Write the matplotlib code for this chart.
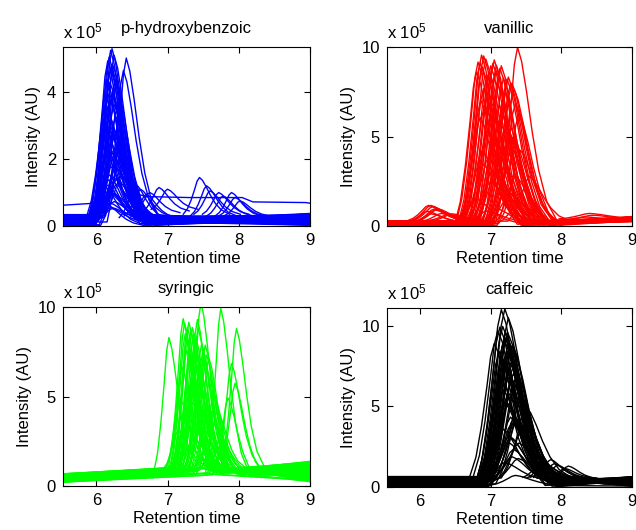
import numpy as np
import matplotlib
matplotlib.use('Agg')
import matplotlib.pyplot as plt

plt.rcParams['font.family'] = ['Liberation Sans', 'DejaVu Sans']
plt.rcParams['mathtext.default'] = 'regular'

# peak template (offset from apex in min, fraction of apex height)
OFFS = np.array([-0.27, -0.20, -0.14, -0.08, -0.04, 0.0, 0.05, 0.11, 0.18, 0.26, 0.36, 0.50])
SHAPE = np.array([0.0, 0.15, 0.38, 0.68, 0.90, 1.0, 0.92, 0.75, 0.52, 0.30, 0.12, 0.0])

# ---- p-hydroxybenzoic (x 1e5) ----
p_rt = [6.22, 6.20, 6.18, 6.25, 6.42, 6.38, 6.24, 6.20, 6.15, 6.28, 6.22, 6.18, 6.30, 6.25, 6.12, 6.20, 6.27, 6.17, 6.32,
        6.22, 6.14, 6.26, 6.20, 6.30, 6.18, 6.24, 6.12, 6.28, 6.20, 6.16, 6.25, 6.35, 6.22, 6.19, 6.23, 6.29, 6.15, 6.21,
        6.16, 6.21, 6.26, 6.19, 6.23, 6.13, 6.27, 6.18, 6.24, 6.20, 6.31, 6.15, 6.22, 6.26, 6.17, 6.29, 6.21, 6.25, 6.19, 6.33]
p_h = [5.2, 5.1, 5.0, 4.9, 4.9, 4.4, 4.7, 4.4, 4.2, 4.1, 3.9, 3.7, 3.5, 3.3, 3.1, 2.9, 2.7, 2.5, 2.4,
       2.2, 2.0, 1.9, 1.7, 1.5, 1.4, 1.2, 1.1, 0.9, 0.8, 0.6, 0.5, 1.2, 0.4, 3.6, 2.6, 1.8, 0.9, 0.3,
       4.8, 4.6, 4.3, 4.0, 3.8, 3.4, 3.2, 3.0, 2.8, 2.6, 2.3, 2.1, 1.9, 1.6, 1.3, 1.1, 0.9, 0.7, 0.5, 2.0]
p_bl = [0.10, 0.15, 0.05, 0.20, 0.12, 0.25, 0.08, 0.30, 0.18, 0.22, 0.03, 0.28, 0.14, 0.33, 0.06, 0.24, 0.11, 0.19, 0.27,
        0.04, 0.16, 0.31, 0.09, 0.21, 0.13, 0.26, 0.07, 0.34, 0.17, 0.02, 0.23, 0.29, 0.12, 0.20, 0.05, 0.15, 0.32, 0.25,
        0.14, 0.22, 0.06, 0.30, 0.18, 0.26, 0.09, 0.33, 0.12, 0.24, 0.04, 0.20, 0.28, 0.16, 0.08, 0.31, 0.11, 0.27, 0.19, 0.02]
p_br = [0.30, 0.12, 0.25, 0.05, 0.35, 0.18, 0.28, 0.10, 0.33, 0.08, 0.22, 0.15, 0.38, 0.03, 0.27, 0.20, 0.06, 0.31, 0.13,
        0.24, 0.36, 0.09, 0.29, 0.17, 0.02, 0.34, 0.21, 0.11, 0.26, 0.19, 0.07, 0.32, 0.14, 0.23, 0.37, 0.04, 0.16, 0.28,
        0.20, 0.08, 0.33, 0.14, 0.26, 0.04, 0.30, 0.18, 0.36, 0.10, 0.24, 0.32, 0.06, 0.22, 0.28, 0.12, 0.35, 0.16, 0.02, 0.25]
p_sec_rt = [6.62, 6.70, 6.88, 7.00, 7.45, 7.55, 7.60, 7.72, 7.78, 7.90, 7.95, 8.02, 6.55, 6.75]
p_sec_h = [0.8, 0.7, 0.7, 0.6, 1.1, 0.9, 0.7, 0.65, 0.6, 0.7, 0.55, 0.45, 1.0, 0.6]
p_sec_b = [0.3, 0.25, 0.45, 0.5, 0.35, 0.3, 0.35, 0.35, 0.3, 0.3, 0.3, 0.3, 0.25, 0.4]
p_hi_t = [5.52, 5.97, 6.08, 6.2, 6.32, 6.5, 6.7, 7.3, 8.05, 8.2, 8.95, 9.0]
p_hi_y = [0.62, 0.68, 1.6, 3.0, 2.2, 1.0, 0.88, 0.85, 0.85, 0.72, 0.70, 0.68]

# ---- vanillic ----
v_rt = [6.87, 6.85, 6.90, 7.05, 7.00, 7.15, 7.25, 7.38, 7.30, 6.80, 6.95, 7.10, 7.35, 7.20, 7.40, 6.90, 7.00, 7.12, 6.85,
        7.25, 7.55, 6.95, 7.05, 7.30, 7.15, 6.90, 7.35, 7.00, 7.20, 6.80, 7.10, 7.40, 6.95, 7.08, 7.18, 6.88, 7.28, 7.02,
        6.82, 6.88, 6.93, 6.98, 7.03, 7.08, 7.13, 7.18, 7.23, 7.28, 7.33, 6.86, 6.92, 7.02, 7.12, 7.22, 7.32, 7.42,
        6.97, 7.07, 7.17, 7.27]
v_h = [9.5, 9.0, 9.3, 9.2, 8.7, 8.8, 8.3, 9.8, 7.7, 8.5, 8.2, 7.9, 6.7, 7.2, 6.2, 7.5, 6.9, 6.5, 5.9,
       5.7, 2.5, 5.2, 4.7, 4.3, 3.7, 3.2, 2.7, 2.2, 1.7, 1.3, 0.9, 1.2, 0.6, 8.9, 6.0, 4.0, 5.0, 3.0,
       9.0, 8.8, 9.1, 8.6, 8.9, 8.4, 8.7, 8.2, 8.0, 7.8, 7.4, 7.0, 6.6, 6.3, 5.8, 5.4, 4.9, 4.1,
       3.6, 2.9, 2.3, 1.6]
v_bl = [0.05, 0.12, 0.20, 0.08, 0.25, 0.15, 0.02, 0.18, 0.28, 0.10, 0.22, 0.06, 0.14, 0.26, 0.04, 0.19, 0.11, 0.23, 0.16,
        0.07, 0.27, 0.13, 0.21, 0.03, 0.17, 0.24, 0.09, 0.29, 0.12, 0.20, 0.05, 0.15, 0.25, 0.08, 0.18, 0.22, 0.10, 0.14,
        0.16, 0.09, 0.23, 0.04, 0.19, 0.27, 0.11, 0.06, 0.21, 0.14, 0.25, 0.02, 0.17, 0.28, 0.10, 0.22, 0.07, 0.13,
        0.26, 0.18, 0.05, 0.24]
v_br = [0.30, 0.45, 0.25, 0.50, 0.35, 0.40, 0.55, 0.28, 0.48, 0.33, 0.42, 0.26, 0.52, 0.38, 0.31, 0.46, 0.36, 0.29, 0.50,
        0.41, 0.34, 0.47, 0.27, 0.44, 0.39, 0.32, 0.53, 0.37, 0.30, 0.43, 0.49, 0.35, 0.40, 0.28, 0.45, 0.33, 0.38, 0.42,
        0.36, 0.48, 0.29, 0.41, 0.53, 0.33, 0.45, 0.27, 0.39, 0.51, 0.31, 0.43, 0.37, 0.49, 0.26, 0.40, 0.34, 0.46,
        0.30, 0.42, 0.54, 0.32]
v_sec_rt = [6.12, 6.15, 6.18, 6.20, 6.10, 6.25, 6.15, 6.22, 6.30, 6.40, 6.45, 8.40, 8.45, 8.35]
v_sec_h = [0.85, 0.90, 0.80, 0.75, 0.60, 0.70, 0.50, 0.65, 0.45, 0.35, 0.40, 0.30, 0.25, 0.20]
v_sec_b = [0.30, 0.25, 0.28, 0.20, 0.22, 0.26, 0.18, 0.24, 0.25, 0.30, 0.28, 0.40, 0.35, 0.30]

# ---- syringic ----
s_rt = [7.02, 7.22, 7.30, 7.35, 7.47, 7.42, 7.75, 7.97, 7.25, 7.40, 7.50, 7.55, 7.30, 7.20, 7.60, 7.90, 7.95, 7.45, 7.65,
        7.35, 7.25, 7.55, 7.75, 7.40, 7.30, 7.60, 7.50, 7.80, 7.15, 7.70, 7.85, 7.45, 7.35, 7.28, 7.38, 7.52, 7.62, 7.18,
        7.24, 7.28, 7.33, 7.37, 7.43, 7.48, 7.53, 7.58, 7.27, 7.32, 7.41, 7.46, 7.36, 7.31, 7.44, 7.49, 7.26, 7.39,
        7.57, 7.67, 7.22, 7.34]
s_h = [7.6, 8.5, 8.2, 8.1, 9.2, 8.4, 9.2, 7.8, 7.7, 7.2, 6.8, 6.4, 6.2, 5.7, 5.2, 5.8, 5.0, 4.7, 4.2,
       3.7, 3.2, 2.7, 2.2, 1.7, 1.2, 0.8, 0.5, 1.5, 2.2, 3.2, 4.3, 5.7, 5.2, 7.5, 6.8, 6.0, 3.5, 4.0,
       8.3, 7.9, 8.0, 7.6, 7.8, 7.1, 6.9, 6.5, 6.7, 6.3, 6.0, 5.5, 5.0, 4.5, 4.0, 3.4, 2.9, 2.4,
       1.9, 2.6, 1.4, 3.0]
s_bl = [0.20, 0.35, 0.50, 0.28, 0.62, 0.42, 0.25, 0.55, 0.38, 0.68, 0.30, 0.46, 0.22, 0.58, 0.34, 0.65, 0.26, 0.48, 0.40,
        0.60, 0.32, 0.52, 0.24, 0.44, 0.66, 0.36, 0.56, 0.29, 0.47, 0.63, 0.21, 0.39, 0.54, 0.31, 0.45, 0.59, 0.27, 0.50,
        0.33, 0.57, 0.24, 0.46, 0.64, 0.37, 0.52, 0.21, 0.43, 0.61, 0.29, 0.55, 0.35, 0.67, 0.25, 0.49, 0.40, 0.58,
        0.23, 0.45, 0.62, 0.30]
s_bm = [0.70, 0.85, 0.95, 0.75, 1.05, 0.90, 0.72, 1.00, 0.82, 1.02, 0.78, 0.92, 0.65, 0.98, 0.80, 1.04, 0.74, 0.93, 0.86,
        0.99, 0.77, 0.96, 0.60, 0.88, 1.03, 0.81, 0.97, 0.73, 0.91, 1.01, 0.62, 0.84, 0.94, 0.76, 0.89, 1.00, 0.68, 0.87,
        0.80, 0.95, 0.70, 0.90, 1.02, 0.83, 0.97, 0.66, 0.88, 1.00, 0.75, 0.94, 0.82, 1.04, 0.71, 0.92, 0.85, 0.98,
        0.69, 0.89, 1.01, 0.78]
s_br = [0.30, 1.20, 0.60, 1.35, 0.45, 0.95, 1.25, 0.20, 0.80, 1.10, 0.55, 1.40, 0.35, 1.00, 0.70, 1.30, 0.25, 0.90, 1.15,
        0.50, 1.05, 0.40, 1.28, 0.65, 0.85, 1.38, 0.30, 0.75, 1.18, 0.58, 0.98, 1.22, 0.42, 1.08, 0.68, 1.32, 0.48, 0.88,
        1.12, 0.52, 0.95, 1.36, 0.28, 0.78, 1.24, 0.62, 1.05, 0.38, 1.30, 0.72, 0.22, 0.92, 1.18, 0.46, 1.02, 0.58,
        1.34, 0.33, 0.84, 1.15]

# ---- caffeic ----
c_rt = [7.15, 7.20, 7.25, 7.05, 7.12, 7.20, 7.25, 7.30, 7.22, 7.28, 7.18, 7.35, 7.30, 7.25, 7.40, 7.20, 7.35,
        7.30, 7.45, 7.25, 7.40, 7.30, 7.20, 7.35, 7.50, 7.15, 7.10, 7.22, 7.27, 7.32, 7.18, 7.24, 7.38, 7.28,
        7.13, 7.17, 7.21, 7.24, 7.27, 7.31, 7.19, 7.23, 7.26, 7.29, 7.33, 7.16, 7.21, 7.25, 7.30, 7.36, 7.42,
        7.22, 7.28, 7.34, 7.18, 7.26, 7.32, 7.39]
c_h = [10.6, 10.5, 10.3, 8.3, 8.3, 8.8, 8.6, 8.1, 7.6, 7.1, 7.4, 6.6, 6.1, 5.6, 5.1, 4.6, 4.1,
       3.6, 3.1, 2.6, 2.1, 1.6, 1.1, 0.6, 4.4, 6.4, 9.1, 9.0, 8.0, 7.0, 5.5, 4.8, 3.5, 2.8,
       9.8, 9.5, 9.3, 9.0, 8.8, 8.4, 8.5, 8.2, 7.9, 7.6, 7.2, 7.8, 7.0, 6.7, 6.3, 5.8, 5.3,
       4.9, 4.3, 3.8, 3.3, 2.7, 2.2, 1.4]
c_bl = [0.40, 0.55, 0.20, 0.60, 0.10, 0.48, 0.30, 0.65, 0.05, 0.52, 0.35, 0.15, 0.58, 0.25, 0.45, 0.62, 0.08,
        0.38, 0.50, 0.18, 0.63, 0.28, 0.42, 0.12, 0.56, 0.33, 0.60, 0.22, 0.47, 0.03, 0.53, 0.36, 0.64, 0.26,
        0.12, 0.46, 0.31, 0.58, 0.07, 0.39, 0.63, 0.21, 0.50, 0.16, 0.44, 0.27, 0.61, 0.09, 0.35, 0.54, 0.19,
        0.41, 0.04, 0.57, 0.29, 0.48, 0.14, 0.37]
c_br = [0.60, 0.30, 0.65, 0.15, 0.50, 0.05, 0.62, 0.40, 0.55, 0.20, 0.64, 0.35, 0.10, 0.58, 0.25, 0.45, 0.63,
        0.08, 0.52, 0.38, 0.18, 0.60, 0.28, 0.48, 0.12, 0.56, 0.33, 0.65, 0.22, 0.43, 0.03, 0.57, 0.36, 0.61,
        0.47, 0.18, 0.59, 0.32, 0.63, 0.09, 0.42, 0.54, 0.26, 0.61, 0.14, 0.50, 0.37, 0.06, 0.56, 0.23, 0.45,
        0.11, 0.60, 0.30, 0.52, 0.17, 0.40, 0.64]
c_sec_rt = [7.75, 7.85, 7.95, 8.10, 7.80, 7.90, 7.70, 8.05]
c_sec_h = [1.0, 1.1, 0.8, 0.8, 0.7, 0.9, 0.9, 0.6]
c_sec_b = [0.55, 0.60, 0.55, 0.50, 0.60, 0.55, 0.60, 0.55]

T0, T1 = 5.5, 9.05
LW = 1.0


def draw_peaks(ax, rt, h, bl, br, color, wf, bm=None):
    if bm is None:
        bm = bl
    for i in range(len(rt)):
        x = np.concatenate([[T0], rt[i] + wf * OFFS, [T1]])
        y = np.concatenate([[bl[i]], bm[i] + h[i] * SHAPE, [br[i]]])
        ax.plot(x, y, color=color, lw=LW)


def draw_bumps(ax, rt, h, b, color, wf):
    for i in range(len(rt)):
        ax.plot(rt[i] + wf * OFFS, b[i] + h[i] * SHAPE, color=color, lw=LW)


fig = plt.figure(figsize=(6.36, 5.30), dpi=100)
boxes = [[0.099, 0.5736, 0.388, 0.3377], [0.6085, 0.5736, 0.385, 0.3377],
         [0.099, 0.083, 0.388, 0.3377], [0.6085, 0.0811, 0.385, 0.3377]]
axs = [fig.add_axes(b) for b in boxes]

draw_peaks(axs[0], p_rt, p_h, p_bl, p_br, 'blue', 1.0)
draw_bumps(axs[0], p_sec_rt, p_sec_h, p_sec_b, 'blue', 0.85)
axs[0].plot(p_hi_t, p_hi_y, color='blue', lw=LW)

draw_bumps(axs[1], v_sec_rt[:11], v_sec_h[:11], v_sec_b[:11], 'red', 1.1)
draw_bumps(axs[1], v_sec_rt[11:], v_sec_h[11:], v_sec_b[11:], 'red', 1.6)
draw_peaks(axs[1], v_rt, v_h, v_bl, v_br, 'red', 1.15)

draw_peaks(axs[2], s_rt, s_h, s_bl, s_br, '#00ff00', 0.8, bm=s_bm)

draw_peaks(axs[3], c_rt, c_h, c_bl, c_br, 'black', 1.3)
draw_bumps(axs[3], c_sec_rt, c_sec_h, c_sec_b, 'black', 0.9)

titles = ['p-hydroxybenzoic', 'vanillic', 'syringic', 'caffeic']
ylims = [5.35, 10.0, 10.0, 11.1]
yticks = [[0, 2, 4], [0, 5, 10], [0, 5, 10], [0, 5, 10]]

for ax, t, yl, yt in zip(axs, titles, ylims, yticks):
    ax.set_xlim(5.53, 9.0)
    ax.set_ylim(0, yl)
    ax.set_xticks([6, 7, 8, 9])
    ax.set_yticks(yt)
    ax.tick_params(direction='in', top=True, right=True, length=4, labelsize=12, pad=5)
    ax.set_title(t, fontsize=12, pad=10)
    ax.set_xlabel('Retention time', fontsize=12, labelpad=2)
    ax.set_ylabel('Intensity (AU)', fontsize=12)
    ax.text(0, 1.03, 'x 10$^5$', transform=ax.transAxes, fontsize=12, ha='left', va='bottom')

fig.savefig('out.png', dpi=100)
